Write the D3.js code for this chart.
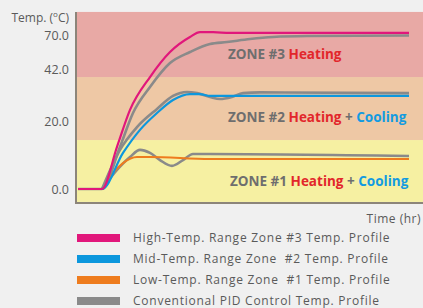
<!DOCTYPE html>
<html>
<head>
<meta charset="utf-8">
<script src="https://cdn.jsdelivr.net/npm/d3@7"></script>
<style>
  html, body { margin: 0; padding: 0; background: #f0f0f0; }
  svg { display: block; font-family: "Open Sans", sans-serif; }
</style>
</head>
<body>
<div id="chart"></div>
<script>
// DATA ///////////////////////////////////////////////////////////////////
// time in arbitrary hr units, temperature in degC (schematic)
const yTicks = [0, 20, 42, 70];
const yTickLabels = ["0.0", "20.0", "42.0", "70.0"];

const zoneNames = ["ZONE #1", "ZONE #2", "ZONE #3"];
const zoneBands = [[-3.8, 14.4], [14.4, 38.6], [38.6, 89]];

const highTime = [0.1, 2.5, 4.0, 5.3, 7.3, 9.3, 11.3, 12.3, 13.6, 15.3, 33.2];
const highTemp = [0, 0, 12.4, 24.7, 38.6, 56.0, 68.4, 72.3, 72.3, 71.7, 71.7];

const midTime = [0.1, 2.5, 4.6, 6.3, 8.0, 9.6, 11.3, 12.3, 13.3, 15.3, 33.2];
const midTemp = [0, 0, 10.6, 17.4, 23.4, 28.9, 31.4, 31.4, 30.6, 30.6, 30.6];

const lowTime = [0.1, 2.5, 3.6, 4.6, 6.0, 7.3, 13.3, 33.2];
const lowTemp = [0, 0, 4.7, 7.6, 9.4, 9.4, 8.8, 8.8];

const pid3Time = [0.1, 2.5, 4.3, 5.6, 7.3, 9.3, 11.3, 13.3, 15.0, 17.3, 19.6, 23.0, 33.2];
const pid3Temp = [0, 0, 12.4, 23.4, 34.4, 46.9, 56.0, 62.6, 64.2, 66.7, 68.4, 69.2, 69.6];

const pid2Time = [2.5, 4.3, 6.0, 8.0, 9.6, 11.0, 12.0, 13.3, 14.3, 15.5, 16.6, 18.3, 33.2];
const pid2Temp = [0, 11.5, 18.2, 25.1, 30.6, 32.3, 31.8, 30.2, 29.3, 30.2, 31.8, 32.1, 31.8];

const pid1Time = [2.5, 4.0, 5.3, 6.3, 7.3, 8.3, 9.5, 10.6, 11.6, 13.3, 33.2];
const pid1Temp = [0, 5.6, 9.4, 11.5, 10.6, 8.5, 6.8, 8.5, 10.3, 10.3, 9.7];

const legendLabels = [
    "High-Temp. Range Zone #3 Temp. Profile",
    "Mid-Temp. Range Zone  #2 Temp. Profile",
    "Low-Temp. Range Zone  #1 Temp. Profile",
    "Conventional PID Control Temp. Profile"
];

(function() {
    const W = 423, H = 308;
    const bandColors = ["#f6f0a2", "#eec8a5", "#e8a9a5"];
    const red = "#e2262b", blue = "#139be0", txtGray = "#6e6e6e";

    const svg = d3.select("#chart").append("svg")
        .attr("width", W).attr("height", H);

    const x = d3.scaleLinear().domain([0, 34.6]).range([77, 423]);
    // the original axis is not linear: piecewise scale through the tick positions
    const y = d3.scaleLinear().domain(yTicks).range([189, 121, 69, 35]);

    // zone bands
    svg.selectAll(".band")
        .data(zoneBands)
        .enter().append("rect")
        .attr("class", "band")
        .attr("x", x(0))
        .attr("width", x(34.6) - x(0))
        .attr("y", d => y(d[1]))
        .attr("height", d => y(d[0]) - y(d[1]))
        .attr("fill", (d, i) => bandColors[i]);

    // frame: left + bottom
    svg.append("path")
        .attr("d", `M${x(0) - 1},${y(89)} V${y(-3.8) + 1} H${W}`)
        .attr("fill", "none")
        .attr("stroke", "#8c857a")
        .attr("stroke-width", 2);

    // y tick labels
    svg.selectAll(".ytick")
        .data(yTicks)
        .enter().append("text")
        .attr("class", "ytick")
        .attr("x", 69)
        .attr("y", d => y(d))
        .attr("dy", "0.36em")
        .attr("text-anchor", "end")
        .attr("font-size", 12.5)
        .attr("fill", "#5a5a5a")
        .text((d, i) => yTickLabels[i]);

    const yTitle = svg.append("text")
        .attr("x", 69).attr("y", 21.5)
        .attr("text-anchor", "end")
        .attr("font-size", 12)
        .attr("fill", "#5a5a5a");
    yTitle.append("tspan").text("Temp. (");
    yTitle.append("tspan").attr("font-size", 8).attr("dy", -5).text("o");
    yTitle.append("tspan").attr("dy", 5).text("C)");

    // zone labels
    const zoneLabelT = [15.3, 15.1, 15.1];
    const zoneLabelV = [0.74, 19.6, 50.6];
    zoneNames.forEach(function(name, i) {
        const t = svg.append("text")
            .attr("x", x(zoneLabelT[i]))
            .attr("y", y(zoneLabelV[i]))
            .attr("font-size", 13.5)
            .attr("font-weight", "bold")
            .attr("fill", txtGray);
        t.append("tspan").text(name + " ");
        t.append("tspan").attr("fill", red).text("Heating");
        if (i < 2) {
            t.append("tspan").text(" + ");
            t.append("tspan").attr("fill", blue).text("Cooling");
        }
    });

    // profiles
    const line = d3.line()
        .x(d => x(d[0]))
        .y(d => y(d[1]))
        .curve(d3.curveMonotoneX);

    const series = [
        {t: pid3Time, v: pid3Temp, c: "#8a8a8a", w: 2.6},
        {t: pid2Time, v: pid2Temp, c: "#8a8a8a", w: 2.6},
        {t: pid1Time, v: pid1Temp, c: "#8a8a8a", w: 2.6},
        {t: lowTime, v: lowTemp, c: "#ee7c1e", w: 2},
        {t: midTime, v: midTemp, c: "#0c97dd", w: 2.2},
        {t: highTime, v: highTemp, c: "#e1177b", w: 2.2}
    ];
    svg.selectAll(".profile")
        .data(series)
        .enter().append("path")
        .attr("class", "profile")
        .attr("d", s => line(d3.zip(s.t, s.v)))
        .attr("fill", "none")
        .attr("stroke", s => s.c)
        .attr("stroke-width", s => s.w)
        .attr("stroke-linejoin", "round");

    // x title
    svg.append("text")
        .attr("x", 421).attr("y", 223)
        .attr("text-anchor", "end")
        .attr("font-size", 12)
        .attr("letter-spacing", 0.5)
        .attr("fill", "#5a5a5a")
        .text("Time (hr)");

    // legend
    const legendColors = ["#e1177b", "#0c97dd", "#ee7c1e", "#8a8a8a"];
    const leg = svg.selectAll(".leg")
        .data(legendLabels)
        .enter().append("g")
        .attr("class", "leg")
        .attr("transform", (d, i) => `translate(77,${238 + i * 21})`);
    leg.append("rect")
        .attr("x", 0).attr("y", -4)
        .attr("width", 43).attr("height", 8)
        .attr("fill", (d, i) => legendColors[i]);
    leg.append("text")
        .attr("x", 56).attr("dy", "0.36em")
        .attr("font-size", 12)
        .attr("letter-spacing", 0.75)
        .attr("fill", "#5a5a5a")
        .style("white-space", "pre")
        .text(d => d);
})();
</script>
</body>
</html>
